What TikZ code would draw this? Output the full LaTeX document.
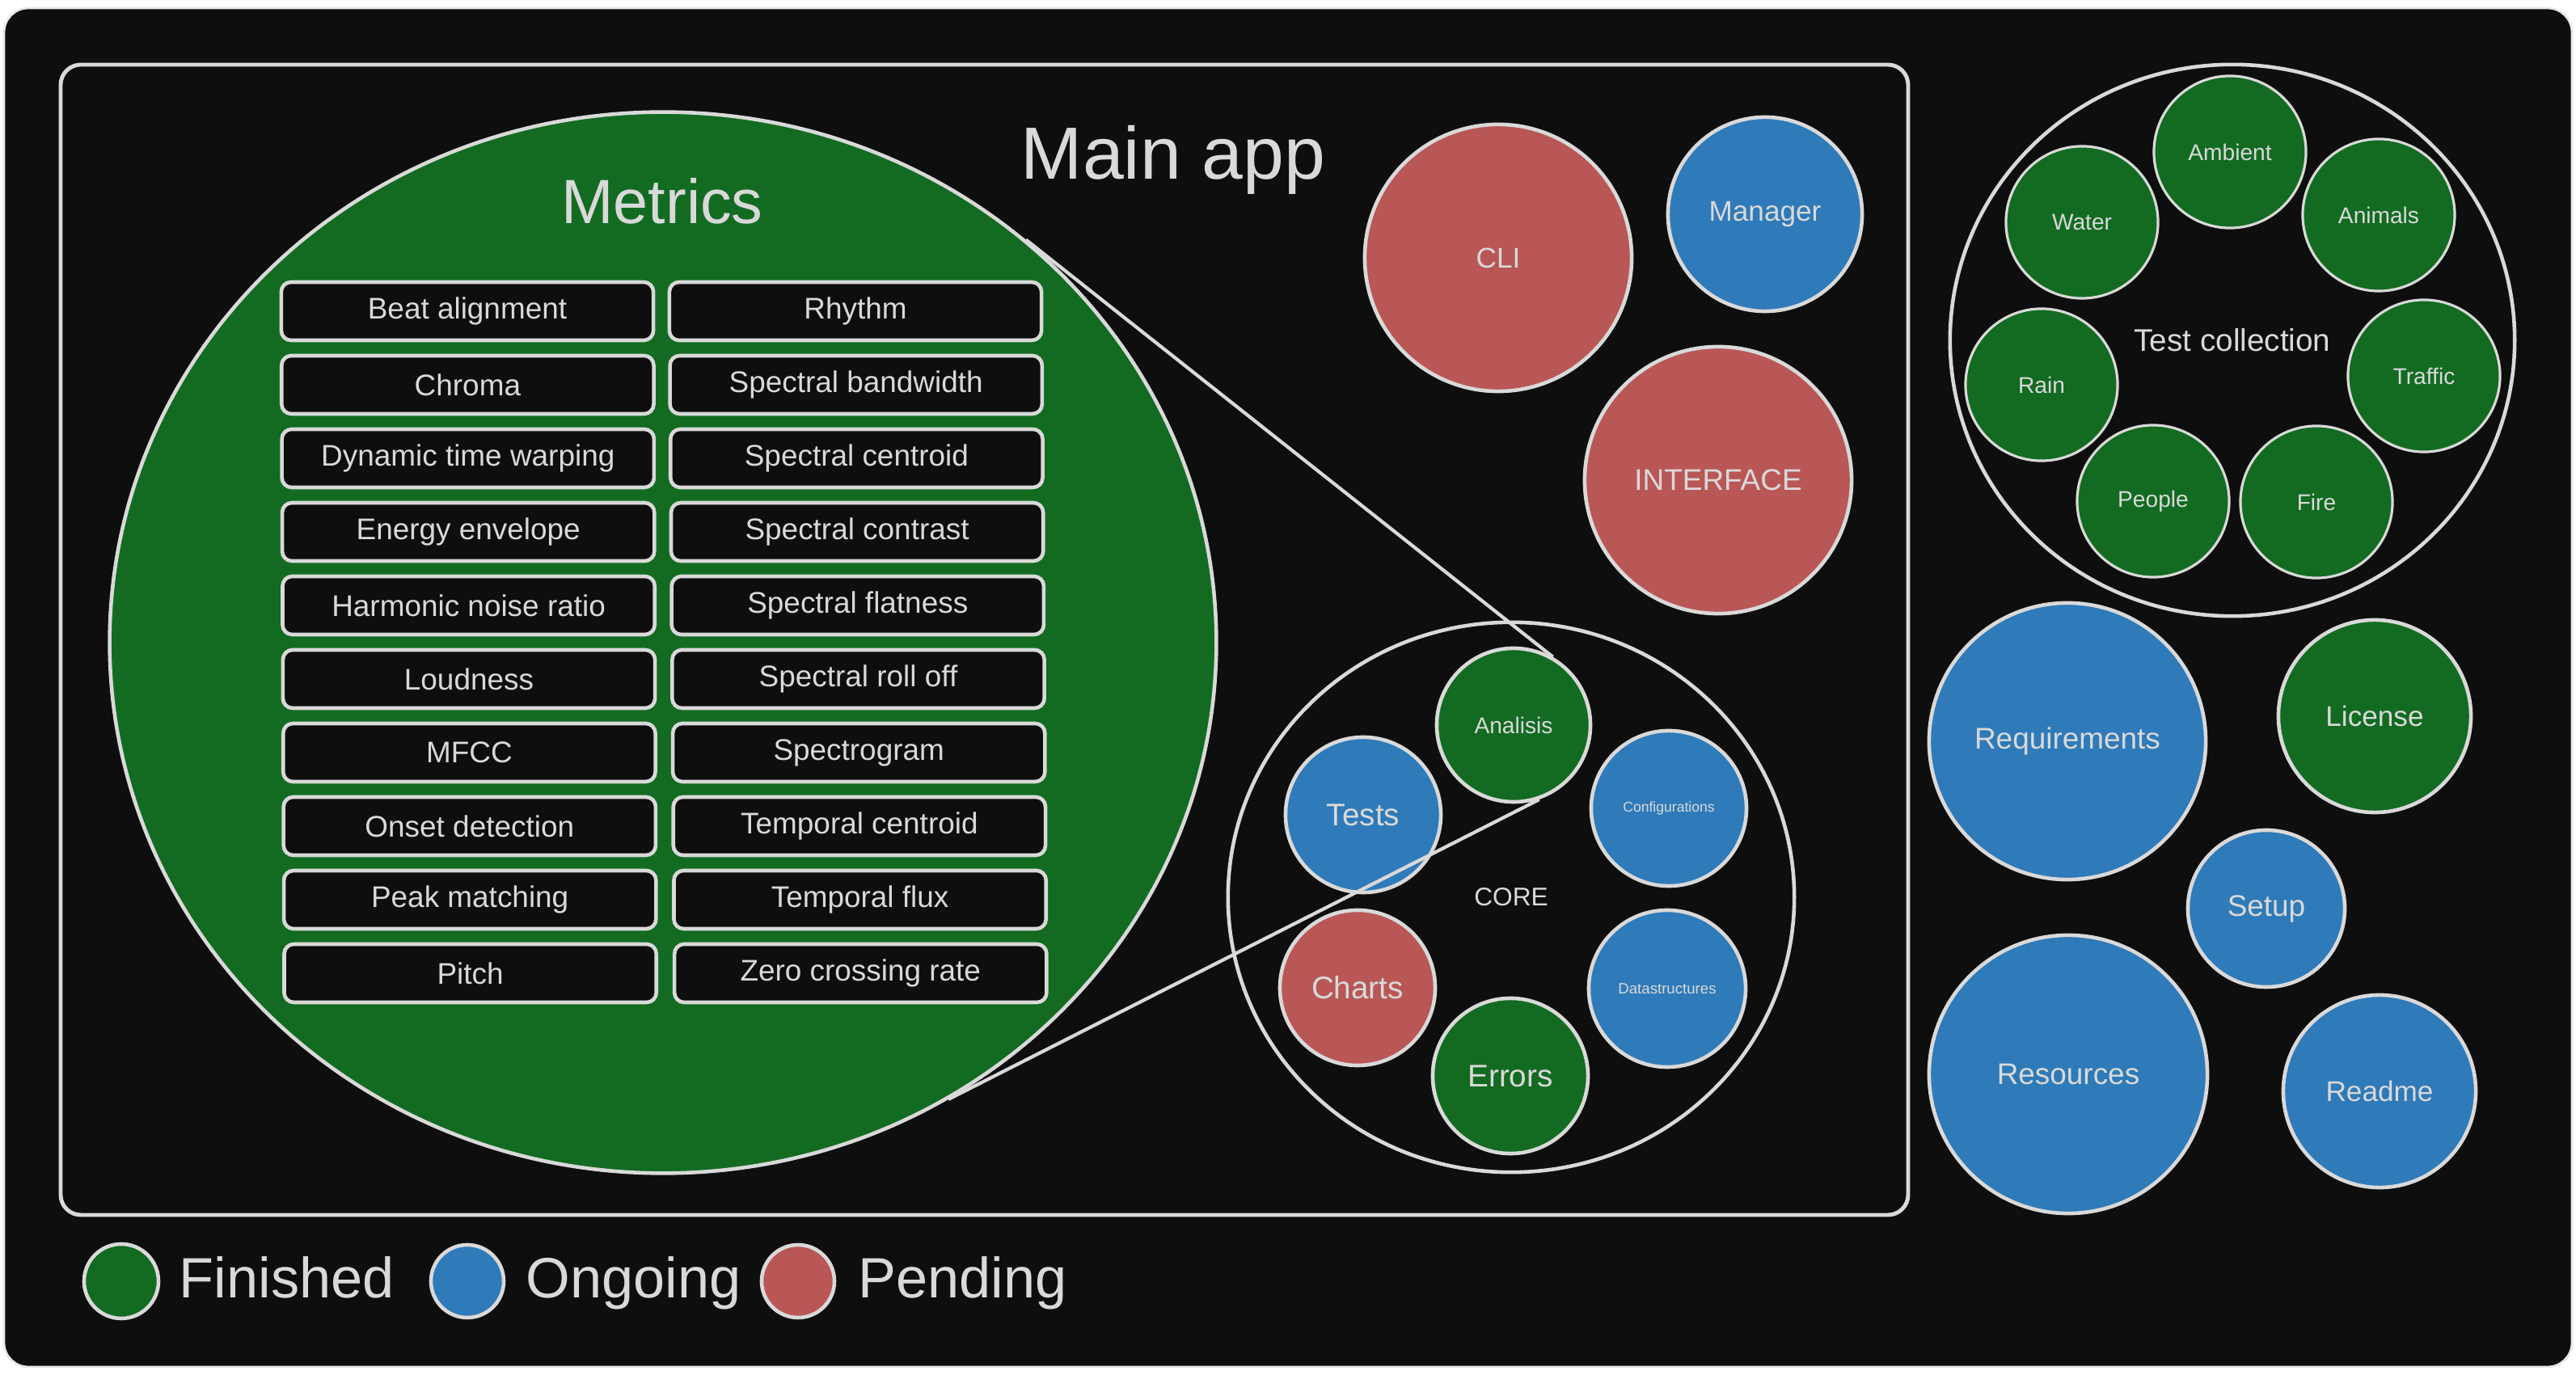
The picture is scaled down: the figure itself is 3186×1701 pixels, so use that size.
\documentclass[tikz,border=0pt]{standalone}
\usepackage{fontspec}
\setmainfont{Liberation Sans}
\usepackage{tikz}
\usetikzlibrary{shapes.geometric}

\definecolor{board}{HTML}{0E0E0E}
\definecolor{chalk}{HTML}{D9D9D9}
\definecolor{donegreen}{HTML}{136B22}
\definecolor{doingblue}{HTML}{2F7AB9}
\definecolor{todored}{HTML}{B95757}

\newcommand{\fsz}[1]{\fontsize{#1}{#1}\selectfont}

\begin{document}
\begin{tikzpicture}[x=0.01cm, y=-0.01cm, text=chalk,
        bubble/.style={circle,draw=chalk,line width=1.3pt,inner sep=0pt,minimum size=#1},
        done node/.style={bubble=#1,fill=donegreen},
        doing node/.style={bubble=#1,fill=doingblue},
        todo node/.style={bubble=#1,fill=todored},
        sound node/.style={done node=1.88cm,line width=0.9pt,font=\fsz{8pt}},
        group node/.style={ellipse,draw=chalk,line width=1.3pt,inner sep=0pt},
        metric node/.style={rectangle,rounded corners=0.12cm,draw=chalk,line width=1.3pt,
            fill=board,minimum width=4.6cm,minimum height=0.72cm,font=\fsz{10.5pt}},
        key node/.style={anchor=base west,inner sep=0pt,font=\fsz{20pt}}]

    % page and board
    \fill[white] (0,0) rectangle (3186,1701);
    \draw[chalk!60, fill=board, line width=0.8pt, rounded corners=0.3cm] (5,10) rectangle (3181,1691);
    \useasboundingbox (0,0) rectangle (3186,1701);

    % main app frame
    \draw[chalk, line width=1.4pt, rounded corners=0.25cm] (75,80) rectangle (2360,1503);
    \node[anchor=base, font=\fsz{26pt}] (mainapp) at (1451,222) {Main app};

    % metrics
    \node[group node, fill=donegreen, minimum width=13.68cm, minimum height=13.12cm] (metrics) at (820,795) {};
    \node[anchor=base, font=\fsz{22pt}] (metricstitle) at (819,277) {Metrics};
    \foreach \name [count=\i from 0] in {Beat alignment, Chroma, Dynamic time warping,
            Energy envelope, Harmonic noise ratio, Loudness, MFCC, Onset detection,
            Peak matching, Pitch}
        \node[metric node] (ml\i) at ({578+0.4*\i}, {385+91*\i}) {\name};
    \foreach \name [count=\i from 0] in {Rhythm, Spectral bandwidth, Spectral centroid,
            Spectral contrast, Spectral flatness, Spectral roll off, Spectrogram,
            Temporal centroid, Temporal flux, Zero crossing rate}
        \node[metric node] (mr\i) at ({1058+0.7*\i}, {385+91*\i}) {\name};

    % core
    \node[group node, minimum width=7.0cm, minimum height=6.8cm, font=\fsz{9pt}] (core) at (1869,1110) {CORE};
    \node[done node=1.9cm, font=\fsz{8pt}] (analisis) at (1872,897) {Analisis};
    \node[doing node=1.92cm, font=\fsz{11pt}] (tests) at (1686,1008) {Tests};
    \node[doing node=1.92cm, font=\fsz{5pt}] (config) at (2064,1000) {Configurations};
    \node[todo node=1.92cm, font=\fsz{11pt}] (charts) at (1679,1222) {Charts};
    \node[doing node=1.94cm, font=\fsz{5.3pt}] (datastruct) at (2062,1223) {Datastructures};
    \node[done node=1.92cm, font=\fsz{11pt}] (errors) at (1868,1331) {Errors};

    % app parts
    \node[todo node=3.3cm, font=\fsz{10pt}] (cli) at (1853,319) {CLI};
    \node[doing node=2.4cm, font=\fsz{10pt}] (manager) at (2183,265) {Manager};
    \node[todo node=3.3cm, font=\fsz{10.5pt}] (interface) at (2125,594) {INTERFACE};

    % test collection
    \node[group node, minimum width=6.98cm, minimum height=6.82cm, font=\fsz{11pt}] (testcoll) at (2761,421) {Test collection};
    \node[sound node] (ambient) at (2758,188) {Ambient};
    \node[sound node] (water) at (2575,275) {Water};
    \node[sound node] (animals) at (2942,266) {Animals};
    \node[sound node] (rain) at (2525,476) {Rain};
    \node[sound node] (traffic) at (2998,465) {Traffic};
    \node[sound node] (people) at (2663,620) {People};
    \node[sound node] (fire) at (2865,621) {Fire};

    % project files
    \node[doing node=3.42cm, font=\fsz{10.5pt}] (requirements) at (2557,917) {Requirements};
    \node[done node=2.38cm, font=\fsz{10pt}] (license) at (2937,886) {License};
    \node[doing node=1.94cm, font=\fsz{10.5pt}] (setup) at (2803,1124) {Setup};
    \node[doing node=3.44cm, font=\fsz{10.5pt}] (resources) at (2558,1329) {Resources};
    \node[doing node=2.38cm, font=\fsz{10pt}] (readme) at (2943,1350) {Readme};

    % zoom lines
    \draw[chalk, line width=1.2pt] (metrics.48.8) -- (analisis.60.6);
    \draw[chalk, line width=1.2pt] (metrics.-58) -- (analisis.-71);

    % legend
    \node[done node=0.92cm] (keydone) at (150,1585) {};
    \node[key node] (finished) at (221,1606) {Finished};
    \node[doing node=0.9cm] (keydoing) at (578,1585) {};
    \node[key node] (ongoing) at (650,1606) {Ongoing};
    \node[todo node=0.9cm] (keytodo) at (987,1585) {};
    \node[key node] (pending) at (1061,1606) {Pending};
\end{tikzpicture}
\end{document}
